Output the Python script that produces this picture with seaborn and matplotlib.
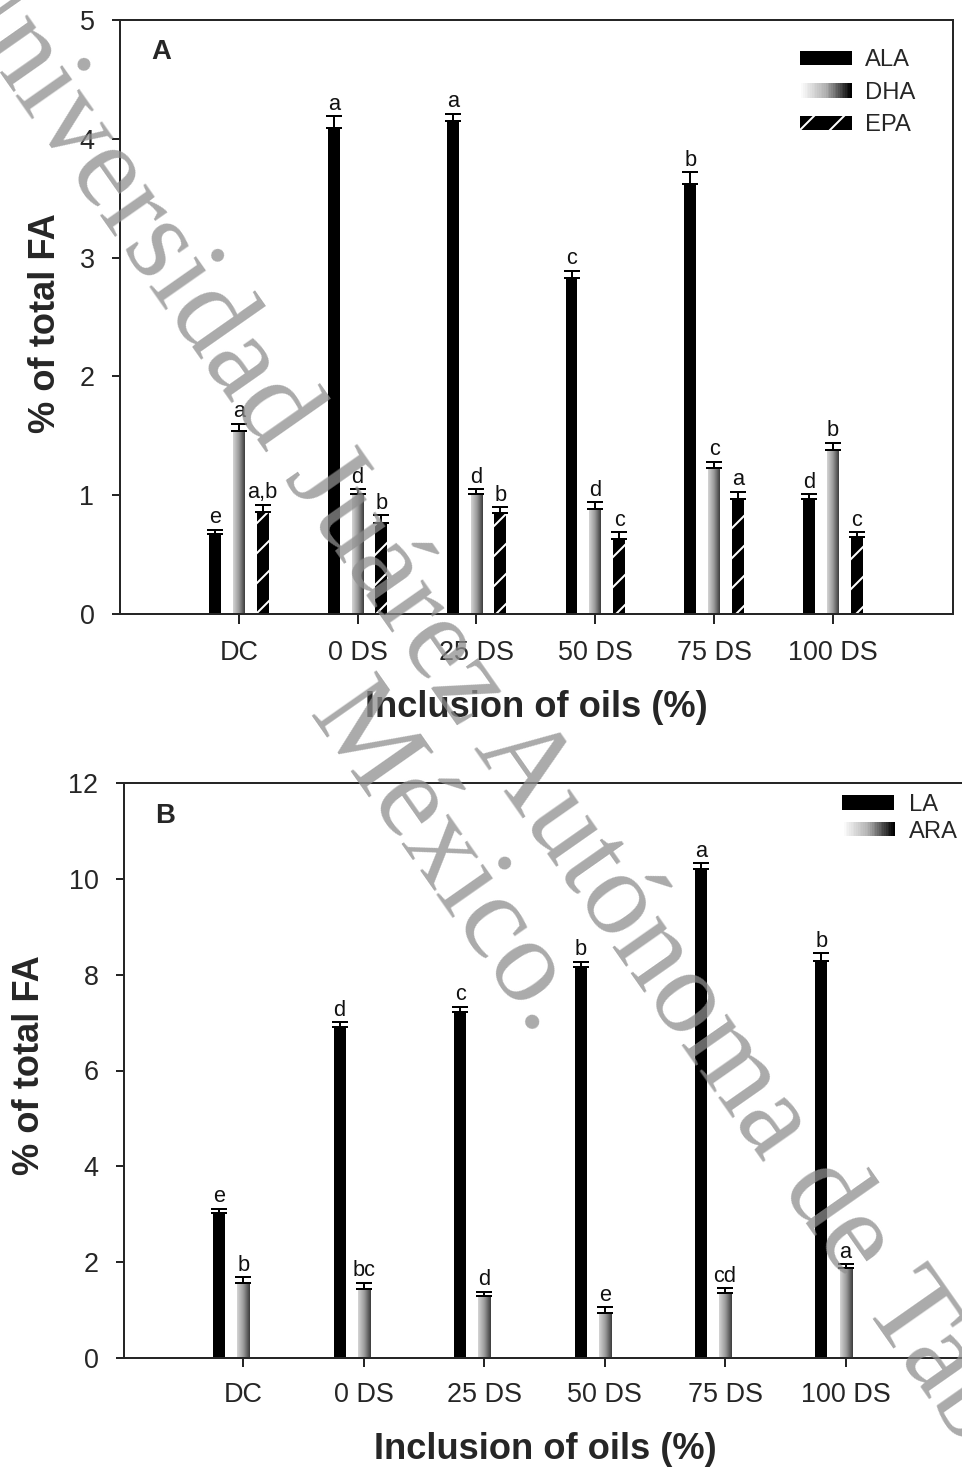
import numpy as np
import pandas as pd
import matplotlib
matplotlib.use("Agg")
import matplotlib.pyplot as plt
import seaborn as sns
from matplotlib.patches import Rectangle, Patch
from matplotlib.legend_handler import HandlerBase
from matplotlib.colors import LinearSegmentedColormap

# ---------------- data ----------------
categories = ["DC", "0 DS", "25 DS", "50 DS", "75 DS", "100 DS"]

ala = [0.67, 4.09, 4.15, 2.83, 3.62, 0.97]
ala_err = [0.04, 0.10, 0.06, 0.06, 0.10, 0.04]
ala_let = ["e", "a", "a", "c", "b", "d"]

dha = [1.54, 1.01, 1.01, 0.88, 1.23, 1.38]
dha_err = [0.06, 0.04, 0.04, 0.06, 0.05, 0.06]
dha_let = ["a", "d", "d", "d", "c", "b"]

epa = [0.86, 0.77, 0.85, 0.63, 0.97, 0.65]
epa_err = [0.06, 0.06, 0.05, 0.06, 0.06, 0.04]
epa_let = ["a,b", "b", "b", "c", "a", "c"]

la = [3.03, 6.91, 7.22, 8.16, 10.21, 8.29]
la_err = [0.08, 0.10, 0.11, 0.11, 0.12, 0.16]
la_let = ["e", "d", "c", "b", "a", "b"]

ara = [1.57, 1.44, 1.29, 0.94, 1.36, 1.88]
ara_err = [0.12, 0.13, 0.09, 0.12, 0.10, 0.08]
ara_let = ["b", "bc", "d", "e", "cd", "a"]

yticks_a = [0, 1, 2, 3, 4, 5]
yticks_b = [0, 2, 4, 6, 8, 10, 12]

# ---------------- style ----------------
sns.set_style("ticks")
plt.rcParams["font.family"] = ["Liberation Sans", "DejaVu Sans"]
plt.rcParams["hatch.linewidth"] = 0.8
plt.rcParams["axes.linewidth"] = 0.8

DPI = 180
fig = plt.figure(figsize=(963 / DPI, 1470 / DPI), dpi=DPI)
fig.patch.set_facecolor("white")

axA = fig.add_axes([120 / 963, 1 - 614 / 1470, 833 / 963, 594 / 1470])
axB = fig.add_axes([124 / 963, 1 - 1358 / 1470, 842 / 963, 575 / 1470])

bar_cmap = LinearSegmentedColormap.from_list("g", ["#d4d4d4", "#9a9a9a", "#3c3c3c"])
leg_cmap = LinearSegmentedColormap.from_list("lg", ["#ffffff", "#b0b0b0", "#000000"])
HATCH = "//"


class GradHandler(HandlerBase):
    def create_artists(self, legend, orig_handle, xdescent, ydescent,
                       width, height, fontsize, trans):
        n = 30
        arts = []
        for i in range(n):
            r = Rectangle((-xdescent + i * width / n, -ydescent), width / n * 1.08, height,
                          facecolor=leg_cmap(i / (n - 1)), edgecolor="none",
                          linewidth=0, transform=trans)
            arts.append(r)
        return arts


def make_df(series):
    rows = []
    for name, vals in series:
        for c, v in zip(categories, vals):
            rows.append({"cat": c, "fa": name, "val": v})
    return pd.DataFrame(rows)


def decorate(ax, specs, ylim):
    # specs: list of (vals, errs, letters, style) in hue order
    for cont, (vals, errs, lets, style) in zip(ax.containers, specs):
        patches = sorted(cont.patches, key=lambda p: p.get_x())
        xs = [p.get_x() + p.get_width() / 2 for p in patches]
        for p in patches:
            p.set_linewidth(0)
            if style == "hatch":
                p.set_facecolor("black")
                p.set_edgecolor("white")
                p.set_hatch(HATCH)
                p.set_linewidth(0)
            elif style == "grad":
                x0 = p.get_x()
                w = p.get_width()
                h = p.get_height()
                grad = np.linspace(0, 1, 64).reshape(1, -1)
                ax.imshow(grad, extent=[x0, x0 + w, 0, h], aspect="auto",
                          cmap=bar_cmap, zorder=p.get_zorder() + 0.1,
                          interpolation="bilinear")
        ax.errorbar(xs, vals, yerr=[np.zeros(len(vals)), errs], fmt="none",
                    ecolor="black", elinewidth=0.8, capsize=3.3, capthick=0.8, zorder=5)
        for x, v, e, l in zip(xs, vals, errs, lets):
            ax.annotate(l, (x, v + e), xytext=(0, 0.6), textcoords="offset points",
                        ha="center", va="bottom", fontsize=8.7, color="#111111", zorder=6)
    ax.set_ylim(*ylim)


# ---------------- Panel A ----------------
dfA = make_df([("ALA", ala), ("DHA", dha), ("EPA", epa)])
sns.barplot(data=dfA, x="cat", y="val", hue="fa", order=categories,
            hue_order=["ALA", "DHA", "EPA"],
            palette={"ALA": "black", "DHA": "#888888", "EPA": "black"},
            width=0.6, gap=0.5, errorbar=None, saturation=1, legend=False,
            linewidth=0, ax=axA)
decorate(axA, [(ala, ala_err, ala_let, "solid"),
               (dha, dha_err, dha_let, "grad"),
               (epa, epa_err, epa_let, "hatch")], (0, 5))
axA.set_xlim(-1.0, 6.01)
axA.set_yticks(yticks_a)
for s in ["top", "right", "left", "bottom"]:
    axA.spines[s].set_visible(True)
    axA.spines[s].set_linewidth(0.8)
axA.tick_params(axis="x", length=4, width=0.8, pad=6.5, labelsize=10.8, direction="out")
axA.tick_params(axis="y", length=3.2, width=0.8, pad=7, labelsize=10.8, direction="out")
axA.set_xlabel("Inclusion of oils (%)", fontsize=14.5, fontweight="bold")
axA.set_ylabel("% of total FA", fontsize=14.5, fontweight="bold")
axA.xaxis.set_label_coords(0.5, -0.128)
axA.yaxis.set_label_coords(-0.068, 0.49)
axA.text(0.038, 0.968, "A", transform=axA.transAxes, fontsize=11, fontweight="bold",
         ha="left", va="top")
hA = [Patch(facecolor="black", edgecolor="none", linewidth=0),
      Patch(facecolor="gray", edgecolor="none", linewidth=0),
      Patch(facecolor="black", edgecolor="white", hatch=HATCH, linewidth=0)]
legA = axA.legend(hA, ["ALA", "DHA", "EPA"], loc="upper left",
                  bbox_to_anchor=(0.816, 0.951), frameon=False, fontsize=9.5,
                  handlelength=2.2, handleheight=0.55, handletextpad=0.55,
                  labelspacing=0.45, borderpad=0, borderaxespad=0,
                  handler_map={hA[1]: GradHandler()})

# ---------------- Panel B ----------------
dfB = make_df([("LA", la), ("ARA", ara)])
sns.barplot(data=dfB, x="cat", y="val", hue="fa", order=categories,
            hue_order=["LA", "ARA", "none"],
            palette={"LA": "black", "ARA": "#888888", "none": "white"},
            width=0.6, gap=0.5, errorbar=None, saturation=1, legend=False,
            linewidth=0, ax=axB)
decorate(axB, [(la, la_err, la_let, "solid"),
               (ara, ara_err, ara_let, "grad")], (0, 12))
axB.set_xlim(-0.99, 6.0)
axB.set_yticks(yticks_b)
axB.spines["right"].set_visible(False)
axB.spines["top"].set_visible(True)
for s in ["top", "left", "bottom"]:
    axB.spines[s].set_linewidth(0.8)
axB.tick_params(axis="x", length=3.5, width=0.8, pad=6.2, labelsize=10.8, direction="out")
axB.tick_params(axis="y", length=3.2, width=0.8, pad=7, labelsize=10.8, direction="out")
axB.set_xlabel("Inclusion of oils (%)", fontsize=14.5, fontweight="bold")
axB.set_ylabel("% of total FA", fontsize=14.5, fontweight="bold")
axB.xaxis.set_label_coords(0.5, -0.128)
axB.yaxis.set_label_coords(-0.092, 0.51)
axB.text(0.037, 0.965, "B", transform=axB.transAxes, fontsize=11, fontweight="bold",
         ha="left", va="top")
hB = [Patch(facecolor="black", edgecolor="none", linewidth=0),
      Patch(facecolor="gray", edgecolor="none", linewidth=0)]
legB = axB.legend(hB, ["LA", "ARA"], loc="upper left",
                  bbox_to_anchor=(0.853, 0.981), frameon=False, fontsize=9.5,
                  handlelength=2.2, handleheight=0.55, handletextpad=0.6,
                  labelspacing=0.2, borderpad=0, borderaxespad=0,
                  handler_map={hB[1]: GradHandler()})

# ---------------- watermark ----------------
fig.text(0.511, 0.437, "Universidad Juárez Autónoma de Tabasco.\nMéxico.",
         rotation=-55, ha="center", va="center", multialignment="center",
         fontsize=48, family=["Liberation Serif", "DejaVu Serif"],
         color="#8e8e8e", alpha=0.75, linespacing=1.08, zorder=20)

fig.savefig("out.png", dpi=DPI, facecolor="white")
